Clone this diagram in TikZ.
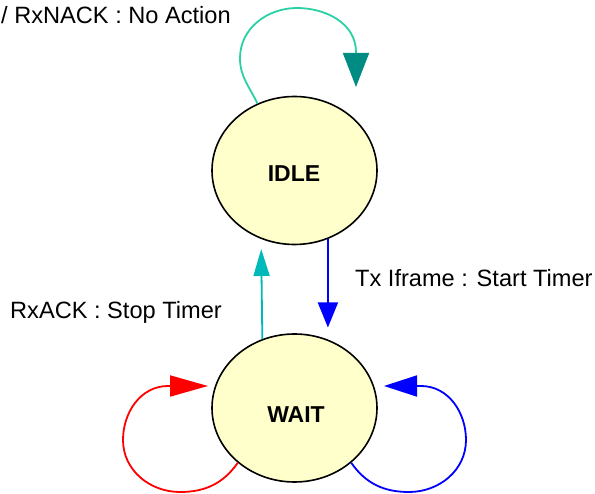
\documentclass[tikz,border=0pt]{standalone}
\usepackage{fontspec}
\setmainfont{Liberation Sans}
\usetikzlibrary{arrows.meta,shapes.geometric}
\definecolor{statefill}{RGB}{255,255,204}
\definecolor{loopteal}{RGB}{40,210,165}
\definecolor{headteal}{RGB}{0,140,130}
\definecolor{ackcyan}{RGB}{0,185,185}
\begin{document}
\begin{tikzpicture}[x=1pt,y=1pt,
  state/.style={ellipse, draw=black, line width=1.6pt, fill=statefill,
    minimum width=165pt, minimum height=148pt, inner sep=0pt},
  statelabel/.style={font=\bfseries\fontsize{23}{23}\selectfont, inner sep=0pt},
  edgelabel/.style={font=\fontsize{23.6}{24}\selectfont, anchor=base west, inner sep=0pt},
  flow/.style={line width=1.8pt}]
\useasboundingbox (0,0) rectangle (595,-494);

% states
\node[state] (idle) at (294.5,-170.5) {};
\node[state] (wait) at (294.5,-408) {};
\node[statelabel] (idletext) at (294,-174) {IDLE};
\node[statelabel] (waittext) at (296,-415) {WAIT};

% transitions between the two states
\draw[flow, ackcyan, -{Triangle[length=27pt,width=16pt]}, shorten >=10pt]
  (wait.115.2) -- (idle.244.8);
\draw[flow, blue, -{Triangle[length=25pt,width=20pt]}, shorten >=12pt]
  (idle.-64.8) -- (wait.64.8);

% self loops
\draw[flow, loopteal, -{Triangle[length=34pt,width=26pt,color=headteal]}]
  (idle.119) to[out=115,in=270] (240,-58) to[out=90,in=180] (297,-8)
  to[out=0,in=90] (356,-52) -- (356,-87);
\draw[flow, red, -{Triangle[length=38pt,width=21pt]}]
  (wait.224) to[out=235,in=0] (180,-492) to[out=180,in=270] (123,-440)
  to[out=90,in=180] (168,-386) -- (208,-386);
\draw[flow, blue, -{Triangle[length=33pt,width=21pt]}]
  (wait.-44) to[out=-55,in=180] (409,-492) to[out=0,in=270] (466,-440)
  to[out=90,in=0] (421,-386) -- (384,-386);

% transition labels
\node[edgelabel] (nack) at (1,-24) {/ RxNACK : No Action};
\node[edgelabel] (ack) at (10,-319) {RxACK : Stop Timer};
\node[edgelabel] (txi) at (355,-287) {Tx Iframe : Start Timer};
\end{tikzpicture}
\end{document}
